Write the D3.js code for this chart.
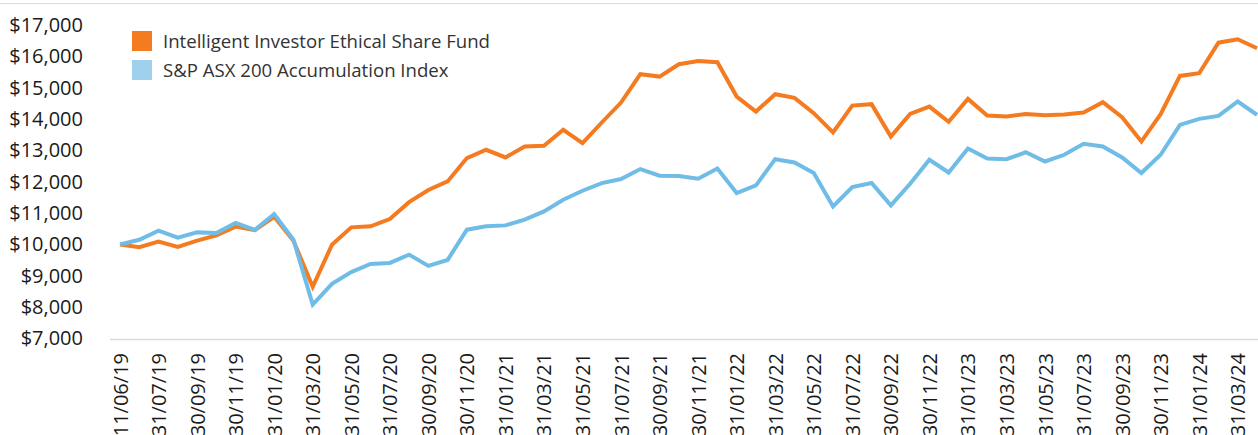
<!DOCTYPE html>
<html>
<head>
<meta charset="utf-8">
<script src="https://cdn.jsdelivr.net/npm/d3@7"></script>
<style>
  html, body { margin: 0; padding: 0; background: #fff; }
  svg { display: block; font-family: "Open Sans", sans-serif; }
</style>
</head>
<body>
<script>
// Month-end dates (first point is the inception date)
const dates = [
  "11/06/19", "30/06/19", "31/07/19", "31/08/19", "30/09/19", "31/10/19", "30/11/19", "31/12/19",
  "31/01/20", "29/02/20", "31/03/20", "30/04/20", "31/05/20", "30/06/20", "31/07/20", "31/08/20",
  "30/09/20", "31/10/20", "30/11/20", "31/12/20", "31/01/21", "28/02/21", "31/03/21", "30/04/21",
  "31/05/21", "30/06/21", "31/07/21", "31/08/21", "30/09/21", "31/10/21", "30/11/21", "31/12/21",
  "31/01/22", "28/02/22", "31/03/22", "30/04/22", "31/05/22", "30/06/22", "31/07/22", "31/08/22",
  "30/09/22", "31/10/22", "30/11/22", "31/12/22", "31/01/23", "28/02/23", "31/03/23", "30/04/23",
  "31/05/23", "30/06/23", "31/07/23", "31/08/23", "30/09/23", "31/10/23", "30/11/23", "31/12/23",
  "31/01/24", "29/02/24", "31/03/24", "30/04/24"
];

const fundValues = [
  10000, 9910, 10090, 9920, 10120, 10290, 10570, 10460, 10880, 10120,
  8650, 9990, 10545, 10577, 10810, 11350, 11736, 12010, 12755, 13020,
  12775, 13125, 13146, 13656, 13232, 13890, 14527, 15430, 15354, 15748,
  15853, 15812, 14717, 14239, 14793, 14675, 14188, 13570, 14430, 14475,
  13443, 14166, 14398, 13911, 14643, 14111, 14080, 14160, 14124, 14145,
  14207, 14538, 14060, 13283, 14156, 15376, 15461, 16436, 16544, 16258
];

const indexValues = [
  10000, 10150, 10440, 10217, 10385, 10366, 10685, 10462, 10970, 10150,
  8083, 8742, 9120, 9379, 9411, 9675, 9315, 9506, 10471, 10577,
  10608, 10790, 11054, 11427, 11713, 11958, 12086, 12404, 12191, 12181,
  12096, 12424, 11640, 11882, 12720, 12615, 12277, 11213, 11831, 11958,
  11245, 11936, 12701, 12296, 13061, 12742, 12720, 12940, 12647, 12860,
  13210, 13124, 12775, 12277, 12860, 13815, 14006, 14102, 14560, 14134
];

const yTicks = [7000, 8000, 9000, 10000, 11000, 12000, 13000, 14000, 15000, 16000, 17000];

const series = [
  {name: "Intelligent Investor Ethical Share Fund", values: fundValues, color: "#f47b20", key: "#f47b20"},
  {name: "S&P ASX 200 Accumulation Index", values: indexValues, color: "#6fbde7", key: "#9fd0ee"}
];

const width = 1258, height = 435;

const svg = d3.select("body").append("svg")
  .attr("width", width).attr("height", height);

const x = d3.scalePoint().domain(dates).range([120, 1257]);
const y = d3.scaleLinear().domain([7000, 17000]).range([338.5, 25]);

// top border line and baseline
svg.append("line")
  .attr("x1", 0).attr("x2", width).attr("y1", 3.5).attr("y2", 3.5)
  .attr("stroke", "#dcdcdc").attr("stroke-width", 1);
svg.append("line")
  .attr("x1", 110).attr("x2", width).attr("y1", 339.5).attr("y2", 339.5)
  .attr("stroke", "#dcdcdc").attr("stroke-width", 1.5);

// y axis
const yAxis = svg.append("g")
  .attr("transform", "translate(83,0)")
  .call(d3.axisLeft(y).tickValues(yTicks).tickSize(0).tickPadding(0)
    .tickFormat(d => "$" + d3.format(",")(d)));
yAxis.select(".domain").remove();
yAxis.selectAll("text")
  .attr("font-size", 20).attr("fill", "#1a1a1a").attr("font-family", "Open Sans, sans-serif");

// x axis, every second date labelled
const xAxis = svg.append("g")
  .attr("transform", "translate(0,353)")
  .call(d3.axisBottom(x).tickValues(dates.filter((d, i) => i % 2 === 0)).tickSize(0).tickPadding(0));
xAxis.select(".domain").remove();
xAxis.selectAll("text")
  .attr("font-size", 20).attr("fill", "#1a1a1a").attr("font-family", "Open Sans, sans-serif")
  .attr("transform", "rotate(-90)")
  .attr("text-anchor", "end")
  .attr("x", 0).attr("y", 0).attr("dy", "0.35em");

// lines
const line = d3.line().x((d, i) => x(dates[i])).y(d => y(d));
for (const s of series) {
  svg.append("path")
    .datum(s.values)
    .attr("fill", "none")
    .attr("stroke", s.color)
    .attr("stroke-width", 4)
    .attr("d", line);
}

// legend
const legend = svg.append("g").attr("transform", "translate(132,31)");
series.forEach((s, i) => {
  const g = legend.append("g").attr("transform", `translate(0,${i * 29})`);
  g.append("rect").attr("width", 20).attr("height", 20).attr("fill", s.key);
  g.append("text")
    .attr("x", 31).attr("y", 10).attr("dy", "0.35em")
    .attr("font-size", 18.6).attr("fill", "#333")
    .text(s.name);
});
</script>
</body>
</html>
